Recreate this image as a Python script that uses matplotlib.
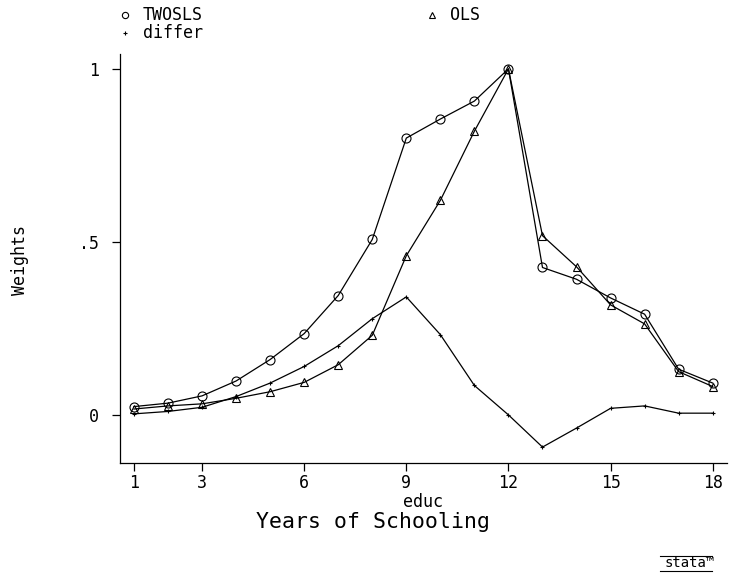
import matplotlib
matplotlib.use("Agg")
import matplotlib.pyplot as plt
from matplotlib.lines import Line2D

educ = list(range(1, 19))
twosls = [0.024, 0.034, 0.055, 0.098, 0.16, 0.235, 0.345, 0.507, 0.80, 0.855, 0.907, 1.0,
          0.426, 0.392, 0.338, 0.291, 0.132, 0.092]
ols = [0.017, 0.026, 0.032, 0.048, 0.067, 0.094, 0.145, 0.23, 0.46, 0.62, 0.82, 1.0,
       0.518, 0.428, 0.318, 0.263, 0.125, 0.082]
differ = [0.003, 0.010, 0.022, 0.053, 0.092, 0.14, 0.20, 0.278, 0.341, 0.232, 0.085, 0.0,
          -0.093, -0.038, 0.019, 0.026, 0.005, 0.005]
xticks = [1, 3, 6, 9, 12, 15, 18]
yticks = [0, 0.5, 1]
yticklabels = ["0", ".5", "1"]

FONT = "DejaVu Sans Mono"
plt.rcParams['font.family'] = [FONT]

W, H = 731, 579
fig = plt.figure(figsize=(W / 100, H / 100), dpi=100)
ax = fig.add_axes([120 / W, 1 - 463 / H, (727 - 120) / W, (463 - 54) / H])

lw = 0.9
ax.plot(educ, twosls, color='black', lw=lw, marker='o', mfc='none', mec='black',
        ms=6.5, mew=0.8, clip_on=False)
ax.plot(educ, ols, color='black', lw=lw, marker='^', mfc='none', mec='black',
        ms=6, mew=0.8, clip_on=False)
ax.plot(educ, differ, color='black', lw=lw, marker='+', mec='black',
        ms=3.5, mew=0.8, clip_on=False)

ax.set_xlim(0.59, 18.42)
ax.set_ylim(-0.139, 1.043)
ax.set_xticks(xticks)
ax.set_xticklabels([str(t) for t in xticks])
ax.set_yticks(yticks)
ax.set_yticklabels(yticklabels)
ax.tick_params(direction='out', length=6, width=0.9, labelsize=12)
ax.tick_params(axis='x', pad=2)
ax.tick_params(axis='y', pad=9)
for s in ['top', 'right']:
    ax.spines[s].set_visible(False)
for s in ['left', 'bottom']:
    ax.spines[s].set_linewidth(0.9)

fig.text(20 / W, 1 - 260 / H, "Weights", rotation=90, ha='center', va='center',
         fontsize=12)
fig.text(423 / W, 1 - 502 / H, "educ", ha='center', va='center', fontsize=12)
fig.text(373 / W, 1 - 522 / H, "Years of Schooling", ha='center', va='center',
         fontsize=15.5)

# legend
leg_items = [("o", "TWOSLS", 125, 15, 4.5), ("^", "OLS", 432, 15, 4.5), ("+", "differ", 125, 33, 3.5)]
for m, lab, px, py, ms in leg_items:
    fig.add_artist(Line2D([px / W], [1 - py / H], transform=fig.transFigure, marker=m,
                          mfc='none', mec='black', ms=ms, mew=0.8, ls='none'))
    fig.text((px + 18) / W, 1 - py / H, lab, ha='left', va='center', fontsize=12)

# logo
fig.text(690 / W, 1 - 563 / H, "stata\u2122", ha='center', va='center', fontsize=10)
fig.add_artist(Line2D([660 / W, 712 / W], [1 - 556 / H] * 2, transform=fig.transFigure,
                      color='black', lw=0.8))
fig.add_artist(Line2D([660 / W, 712 / W], [1 - 571 / H] * 2, transform=fig.transFigure,
                      color='black', lw=0.8))

fig.savefig("out.png", dpi=100)
